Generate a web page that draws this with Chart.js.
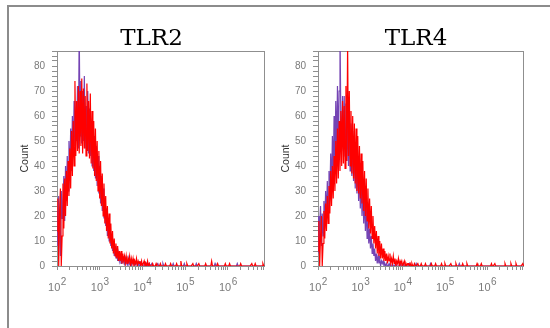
<!DOCTYPE html>
<html>
<head>
<meta charset="utf-8">
<script src="https://cdn.jsdelivr.net/npm/chart.js@4.4.1/dist/chart.umd.min.js"></script>
<style>
  html, body { margin: 0; padding: 0; background: #fff; }
  body { width: 550px; height: 328px; position: relative; overflow: hidden; }
  #frame { position: absolute; left: 7px; top: 5px; width: 543px; height: 323px;
           border-top: 2px solid #8c8c8c; border-left: 2px solid #8c8c8c; box-sizing: border-box; }
  canvas { position: absolute; top: 0; }
</style>
</head>
<body>
<div id="frame"></div>
<canvas id="tlr2" width="268" height="300" style="left:7px"></canvas>
<canvas id="tlr4" width="266" height="300" style="left:268px"></canvas>
<script>
// histogram bins: log10 of the first bin and width of each bin (in decades)
const binStartLog = 2;
const binWidthLog = 0.02;
const xMax = 7.4e6;
const decadeBase = '10';
const decadeExponents = ['2', '3', '4', '5', '6'];
const yMax = 86;

const tlr2Red = [
  14, 27, 0, 22, 31, 0, 12, 33, 15, 35,
  20, 38, 24, 42, 28, 47, 31, 54, 36, 58,
  40, 74, 44, 66, 46, 72, 45, 70, 48, 75,
  45, 71, 47, 68, 44, 73, 46, 66, 43, 69,
  41, 62, 39, 58, 36, 55, 34, 50, 30, 46,
  27, 42, 24, 37, 20, 33, 17, 28, 14, 24,
  11, 21, 9, 17, 7, 14, 5, 11, 4, 9,
  3, 8, 2, 6, 2, 6, 1, 5, 2, 4,
  1, 4, 1, 3, 2, 4, 0, 3, 1, 3,
  0, 2, 1, 3, 0, 2, 1, 2, 0, 2,
  0, 1, 2, 0, 1, 0, 2, 0, 1, 0,
  0, 0, 1, 0, 0, 0, 1, 0, 0, 0,
  0, 1, 0, 0, 0, 0, 0, 1, 0, 0,
  0, 0, 0, 1, 0, 0, 0, 0, 0, 0,
  1, 0, 0, 0, 0, 2, 0, 0, 0, 0,
  0, 0, 1, 0, 0, 0, 0, 0, 0, 1,
  0, 0, 0, 0, 0, 0, 1, 0, 0, 0,
  0, 0, 0, 0, 1, 0, 0, 0, 0, 0,
  0, 2, 0, 0, 0, 0, 0, 0, 1, 0,
  0, 0, 0, 0, 0, 0, 0, 1, 0, 0,
  0, 0, 1, 0, 0, 0, 0, 0, 0, 0,
  0, 0, 0, 0, 0, 1, 0, 0, 0, 0,
  0, 0, 0, 0, 0, 0, 0, 0, 1, 0,
  0, 0, 1, 0, 0, 0, 0, 0, 0, 0,
  0, 1, 0, 0
];
const tlr2Purple = [
  22, 8, 28, 12, 4, 30, 19, 26, 36, 18,
  40, 26, 44, 30, 50, 34, 55, 38, 60, 44,
  66, 48, 62, 50, 72, 47, 95, 52, 74, 49,
  70, 50, 76, 47, 64, 48, 70, 45, 63, 44,
  58, 40, 56, 38, 52, 35, 48, 32, 44, 29,
  40, 25, 36, 22, 31, 19, 27, 16, 23, 12,
  19, 10, 15, 8, 12, 6, 10, 4, 8, 3,
  6, 2, 5, 2, 4, 1, 4, 2, 3, 1,
  3, 1, 2, 0, 3, 1, 2, 0, 2, 1,
  2, 0, 1, 2, 0, 1, 0, 2, 0, 1,
  1, 0, 0, 1, 0, 1, 0, 0, 1, 0,
  0, 1, 0, 0, 0, 0, 0, 0, 1, 0,
  0, 0, 0, 0, 1, 0, 0, 0, 0, 0,
  0, 0, 0, 0, 0, 0, 1, 0, 0, 0,
  0, 0, 0, 0, 0, 0, 0, 0, 0, 1,
  0, 0, 0, 0, 0, 0, 0, 0, 0, 0,
  0, 0, 0, 1, 0, 0, 0, 0, 0, 0,
  0, 0, 0, 0, 0, 0, 0, 0, 0, 0,
  0, 0, 0, 0, 0, 1, 0, 0, 0, 0,
  0, 0, 0, 0, 0, 0, 0, 0, 0, 0,
  0, 0, 0, 0, 0, 0, 0, 0, 0, 0,
  0, 1, 0, 0, 0, 0, 0, 0, 0, 0,
  0, 0, 0, 0, 0, 0, 0, 0, 0, 0,
  0, 0, 0, 0, 0, 0, 0, 0, 0, 0,
  0, 0, 0, 0
];
const tlr4Red = [
  6, 18, 0, 12, 20, 0, 9, 22, 11, 25,
  14, 28, 17, 32, 21, 38, 24, 40, 27, 44,
  30, 50, 33, 55, 35, 58, 38, 62, 40, 66,
  41, 64, 39, 72, 42, 88, 44, 70, 40, 62,
  37, 60, 35, 57, 33, 55, 30, 52, 29, 48,
  27, 45, 25, 42, 22, 38, 20, 35, 18, 31,
  15, 27, 13, 24, 11, 20, 9, 16, 7, 14,
  5, 12, 4, 10, 3, 9, 3, 7, 2, 6,
  2, 5, 1, 4, 2, 5, 1, 3, 1, 4,
  1, 3, 0, 2, 1, 3, 0, 2, 1, 2,
  0, 1, 2, 0, 1, 0, 1, 1, 0, 1,
  0, 1, 0, 0, 1, 0, 0, 0, 1, 0,
  0, 0, 1, 0, 0, 0, 0, 1, 0, 0,
  0, 0, 0, 0, 1, 0, 0, 0, 0, 1,
  0, 0, 0, 0, 0, 0, 1, 0, 0, 0,
  1, 0, 0, 0, 0, 0, 0, 1, 0, 0,
  0, 0, 0, 1, 0, 0, 0, 0, 0, 0,
  0, 1, 0, 0, 0, 0, 1, 0, 0, 0,
  0, 0, 0, 0, 0, 0, 0, 0, 1, 0,
  0, 0, 0, 1, 0, 0, 0, 0, 0, 0,
  0, 0, 0, 0, 0, 1, 0, 0, 0, 1,
  0, 0, 0, 0, 0, 0, 0, 0, 0, 0,
  0, 1, 0, 0, 0, 0, 0, 0, 1, 0,
  0, 0, 0, 0, 1, 0, 0, 0, 0, 0,
  0, 0, 1, 0
];
const tlr4Purple = [
  20, 5, 16, 24, 8, 21, 12, 26, 15, 30,
  19, 34, 22, 38, 27, 45, 30, 52, 36, 60,
  40, 66, 44, 72, 46, 70, 95, 58, 47, 68,
  46, 68, 44, 65, 42, 62, 40, 60, 38, 57,
  36, 54, 34, 50, 31, 47, 29, 43, 26, 40,
  23, 36, 20, 32, 17, 28, 14, 24, 11, 19,
  9, 15, 7, 12, 5, 9, 4, 7, 2, 5,
  1, 4, 1, 3, 0, 2, 1, 2, 0, 1,
  0, 1, 0, 0, 1, 0, 0, 0, 1, 0,
  0, 0, 1, 0, 0, 0, 0, 1, 0, 0,
  0, 1, 0, 0, 0, 0, 0, 0, 1, 0,
  0, 0, 0, 0, 0, 0, 1, 0, 0, 0,
  0, 0, 0, 0, 0, 0, 0, 0, 0, 0,
  0, 0, 0, 1, 0, 0, 0, 0, 0, 0,
  0, 0, 0, 0, 0, 0, 0, 0, 0, 0,
  0, 0, 0, 0, 0, 0, 0, 0, 0, 0,
  0, 0, 0, 0, 0, 0, 0, 1, 0, 0,
  0, 0, 0, 0, 0, 0, 0, 0, 0, 0,
  0, 0, 0, 0, 0, 0, 0, 0, 0, 0,
  0, 0, 0, 0, 0, 0, 0, 0, 0, 0,
  0, 0, 0, 0, 0, 0, 0, 0, 0, 0,
  0, 0, 0, 0, 0, 0, 0, 0, 0, 0,
  0, 0, 0, 0, 0, 0, 0, 0, 0, 0,
  0, 0, 0, 0, 0, 0, 0, 0, 0, 0,
  0, 0, 0, 0
];

const axisGray = '#8f8f8f';
const labelGray = '#7a7a7a';
const sansFamily = '"Liberation Sans", Arial, sans-serif';

// minor ticks 1..9 in every decade
const xTickValues = [];
for (let d = 2; d <= 6; d++) {
  for (let m = 1; m <= 9; m++) {
    if (m * Math.pow(10, d) <= xMax) xTickValues.push(m * Math.pow(10, d));
  }
}

function toPoints(counts) {
  return counts.map((c, i) => ({ x: Math.pow(10, binStartLog + binWidthLog * i), y: c }));
}

const panelTitle = {
  id: 'panelTitle',
  afterDraw(chart, args, opts) {
    const ctx = chart.ctx;
    ctx.save();
    ctx.font = '23px "DejaVu Serif", serif';
    ctx.fillStyle = '#000';
    ctx.textAlign = 'center';
    ctx.textBaseline = 'alphabetic';
    ctx.fillText(opts.text, opts.x, opts.y);
    ctx.restore();
  }
};

// "10" with a raised exponent under each decade tick
const decadeLabels = {
  id: 'decadeLabels',
  afterDraw(chart) {
    const sx = chart.scales.x;
    const ctx = chart.ctx;
    const y = chart.chartArea.bottom;
    ctx.save();
    ctx.fillStyle = labelGray;
    ctx.textBaseline = 'alphabetic';
    decadeExponents.forEach((exp, k) => {
      const px = sx.getPixelForValue(Math.pow(10, k + 2));
      ctx.font = '11px ' + sansFamily;
      const wBase = ctx.measureText(decadeBase).width;
      ctx.font = '10px ' + sansFamily;
      const wExp = ctx.measureText(exp).width;
      const left = px - (wBase + wExp) / 2;
      ctx.font = '11px ' + sansFamily;
      ctx.textAlign = 'left';
      ctx.fillText(decadeBase, left, y + 24.5);
      ctx.font = '10px ' + sansFamily;
      ctx.fillText(exp, left + wBase + 0.5, y + 18.5);
    });
    ctx.restore();
  }
};

const plotBox = {
  id: 'plotBox',
  beforeDatasetsDraw(chart) {
    const a = chart.chartArea;
    const ctx = chart.ctx;
    ctx.save();
    ctx.strokeStyle = axisGray;
    ctx.lineWidth = 1;
    ctx.strokeRect(a.left + 0.5, a.top + 0.5, a.right - a.left - 1, a.bottom - a.top);
    ctx.restore();
  }
};

function makeChart(id, title, titleX, red, purple) {
  return new Chart(document.getElementById(id), {
    type: 'line',
    data: {
      datasets: [
        { data: toPoints(red), borderColor: '#ff0000', borderWidth: 1.2, pointRadius: 0, tension: 0 },
        { data: toPoints(purple), borderColor: '#7444b4', borderWidth: 1.2, pointRadius: 0, tension: 0 }
      ]
    },
    options: {
      responsive: false,
      animation: false,
      layout: { padding: { left: 0, right: 10, top: 51, bottom: 0 } },
      plugins: {
        legend: { display: false },
        tooltip: { enabled: false },
        panelTitle: { text: title, x: titleX, y: 45 }
      },
      scales: {
        x: {
          type: 'logarithmic',
          min: 100,
          max: xMax,
          afterBuildTicks: s => { s.ticks = xTickValues.map(v => ({ value: v })); },
          afterFit: s => { s.height = 34; },
          border: { display: false },
          grid: { drawOnChartArea: false, tickLength: 4, color: axisGray },
          ticks: {
            autoSkip: false,
            maxRotation: 0,
            callback: () => ''
          }
        },
        y: {
          min: 0,
          max: yMax,
          afterFit: s => { s.width = 50; },
          border: { display: false },
          grid: { drawOnChartArea: false, tickLength: 5, color: axisGray },
          ticks: {
            stepSize: 2,
            autoSkip: false,
            padding: 7,
            color: labelGray,
            font: { family: sansFamily, size: 10 },
            callback: v => (v % 10 === 0 ? String(v) : '')
          },
          title: {
            display: true,
            text: 'Count',
            color: '#333',
            font: { family: sansFamily, size: 10.5 },
            padding: { top: 12, bottom: 0 }
          }
        }
      }
    },
    plugins: [panelTitle, plotBox, decadeLabels]
  });
}

makeChart('tlr2', 'TLR2', 144.5, tlr2Red, tlr2Purple);
makeChart('tlr4', 'TLR4', 148, tlr4Red, tlr4Purple);
</script>
</body>
</html>
